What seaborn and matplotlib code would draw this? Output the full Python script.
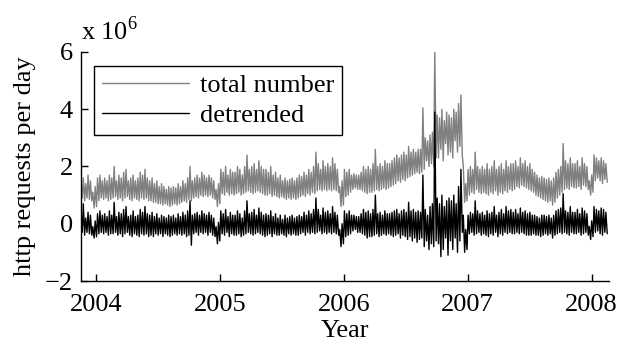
import pandas as pd
import seaborn as sns
import matplotlib
matplotlib.use("Agg")
import matplotlib.pyplot as plt

# ----------------------------------------
# Data (millions of requests), one weekly peak (weekday) and trough (weekend)
# first week starts 2003-11-17, one row per ~quarter
# ----------------------------------------
START = "2003-11-17"

total_high = [
    1.5, 1.6, 1.4, 1.7, 1.5, 1.1, 1.3, 1.6, 1.7, 1.5, 1.6, 1.5, 1.7,
    1.6, 2.0, 1.5, 1.7, 1.6, 1.8, 1.9, 1.5, 1.6, 1.7, 1.5, 1.6, 1.8,
    1.7, 1.9, 1.6, 1.5, 1.6, 1.4, 1.5, 1.3, 1.4, 1.3, 1.2, 1.3, 1.25,
    1.3, 1.25, 1.4, 1.3, 1.5, 1.4, 1.6, 2.0, 1.5, 1.6, 1.7, 1.6, 1.8,
    1.7, 1.6, 1.7, 1.6, 1.5, 1.2, 1.4, 1.9, 1.8, 2.0, 1.7, 1.9, 1.8,
    1.8, 2.0, 1.9, 1.7, 2.0, 2.4, 1.9, 2.0, 2.1, 1.9, 2.2, 2.0, 1.9,
    1.9, 1.8, 2.0, 1.7, 1.8, 1.6, 1.7, 1.5, 1.6, 1.5, 1.55, 1.6, 1.5,
    1.6, 1.7, 1.65, 1.8, 1.7, 1.9, 1.8, 2.0, 2.5, 2.1, 1.9, 2.2, 2.0,
    2.1, 2.0, 2.3, 2.1, 1.9, 1.3, 1.5, 1.9, 1.8, 1.9, 1.7, 1.75, 1.7,
    1.7, 1.8, 2.0, 1.9, 2.0, 1.9, 2.1, 2.6, 2.0, 2.1, 2.0, 2.2, 2.1,
    2.1, 2.2, 2.3, 2.4, 2.3, 2.4, 2.5, 2.4, 2.7, 2.5, 2.6, 2.5, 2.6,
    2.6, 4.05, 3.0, 2.9, 3.1, 3.2, 6.0, 3.8, 3.7, 4.0, 3.6, 3.9, 3.8,
    3.7, 4.0, 3.9, 4.2, 4.5, 2.0, 1.4, 1.9, 2.0, 1.9, 2.5, 2.0, 1.9,
    2.0, 1.9, 2.1, 1.9, 2.0, 2.2, 1.9, 2.0, 2.1, 1.9, 2.2, 2.0, 2.1,
    2.1, 2.2, 2.0, 2.3, 2.1, 2.2, 2.0, 2.1, 1.9, 1.8, 1.7, 1.6, 1.65,
    1.6, 1.55, 1.6, 1.5, 1.6, 1.8, 1.9, 2.0, 2.8, 2.2, 2.1, 2.3, 2.1,
    2.1, 2.2, 2.0, 2.3, 2.1, 2.0, 1.5, 1.7, 2.4, 2.3, 2.2, 2.3, 2.2, 2.1,
]

total_low = [
    0.9, 0.8, 0.9, 0.85, 0.8, 0.55, 0.6, 0.8, 0.9, 0.85, 0.9, 0.8, 0.85,
    0.9, 0.95, 0.85, 0.9, 0.8, 0.9, 0.95, 0.85, 0.8, 0.9, 0.85, 0.8, 0.9,
    0.85, 0.9, 0.8, 0.8, 0.75, 0.75, 0.7, 0.7, 0.65, 0.7, 0.65, 0.6, 0.65,
    0.7, 0.65, 0.7, 0.75, 0.8, 0.75, 0.85, 0.8, 0.9, 0.95, 0.9, 1.0, 0.95,
    1.0, 0.95, 1.0, 0.9, 0.85, 0.6, 0.7, 1.05, 1.0, 1.1, 1.0, 1.05, 1.0,
    1.05, 1.1, 1.0, 1.05, 1.1, 1.15, 1.1, 1.05, 1.1, 1.15, 1.1, 1.05, 1.0,
    1.0, 1.05, 0.95, 1.0, 0.95, 0.9, 0.95, 0.9, 0.85, 0.9, 0.85, 0.9, 0.85,
    0.9, 0.95, 1.0, 0.95, 1.05, 1.0, 1.1, 1.05, 1.15, 1.2, 1.15, 1.2, 1.15,
    1.2, 1.15, 1.2, 1.15, 1.1, 0.6, 0.65, 0.95, 1.0, 1.1, 1.2, 1.25, 1.2,
    1.2, 1.15, 1.1, 1.05, 1.1, 1.1, 1.15, 1.2, 1.15, 1.2, 1.25, 1.2, 1.25,
    1.3, 1.35, 1.4, 1.5, 1.45, 1.55, 1.5, 1.6, 1.65, 1.7, 1.75, 1.8, 1.75,
    1.8, 1.9, 2.2, 2.0, 2.1, 2.0, 2.3, 2.3, 2.6, 2.2, 2.8, 2.4, 2.5,
    2.3, 2.9, 2.5, 2.7, 2.4, 0.75, 0.8, 1.0, 1.1, 1.05, 1.2, 1.1, 1.05,
    1.1, 1.05, 1.0, 1.1, 1.05, 1.15, 1.0, 1.1, 1.05, 1.15, 1.1, 1.2, 1.15,
    1.2, 1.3, 1.25, 1.35, 1.3, 1.25, 1.2, 1.15, 1.1, 1.0, 0.95, 0.9, 0.85,
    0.8, 0.75, 0.8, 0.65, 0.75, 0.9, 1.0, 1.1, 1.2, 1.25, 1.2, 1.3, 1.25,
    1.25, 1.3, 1.2, 1.35, 1.3, 1.2, 1.0, 1.1, 1.5, 1.6, 1.5, 1.4, 1.55, 1.45,
]

detrended_high = [
    0.3, 0.7, 0.2, 0.4, 0.3, -0.1, 0.1, 0.35, 0.45, 0.3, 0.35, 0.25, 0.45,
    0.3, 0.75, 0.25, 0.4, 0.35, 0.5, 0.6, 0.25, 0.3, 0.45, 0.25, 0.3, 0.5,
    0.4, 0.6, 0.35, 0.3, 0.4, 0.25, 0.35, 0.2, 0.3, 0.25, 0.2, 0.3, 0.25,
    0.3, 0.2, 0.35, 0.25, 0.4, 0.3, 0.45, 0.8, 0.3, 0.35, 0.4, 0.3, 0.45,
    0.35, 0.3, 0.4, 0.3, 0.2, -0.1, 0.05, 0.45, 0.35, 0.5, 0.25, 0.4, 0.3,
    0.3, 0.45, 0.35, 0.2, 0.45, 0.8, 0.35, 0.4, 0.5, 0.3, 0.55, 0.4, 0.3,
    0.35, 0.3, 0.45, 0.25, 0.35, 0.2, 0.3, 0.15, 0.3, 0.2, 0.25, 0.3, 0.2,
    0.25, 0.3, 0.25, 0.4, 0.3, 0.45, 0.35, 0.5, 0.9, 0.5, 0.3, 0.55, 0.4,
    0.45, 0.35, 0.6, 0.4, 0.3, -0.2, 0.0, 0.45, 0.35, 0.45, 0.3, 0.3, 0.25,
    0.25, 0.35, 0.5, 0.4, 0.45, 0.35, 0.5, 1.0, 0.35, 0.4, 0.3, 0.45, 0.35,
    0.35, 0.4, 0.45, 0.5, 0.35, 0.45, 0.5, 0.4, 0.75, 0.45, 0.5, 0.4, 0.45,
    0.4, 1.7, 0.5, 0.3, 0.6, 0.7, 3.9, 0.9, 0.7, 1.0, 0.6, 0.8, 0.9,
    0.8, 1.0, 0.7, 1.3, 1.9, 0.3, -0.2, 0.3, 0.4, 0.35, 0.8, 0.45, 0.35,
    0.4, 0.3, 0.45, 0.35, 0.4, 0.6, 0.3, 0.4, 0.5, 0.35, 0.6, 0.45, 0.5,
    0.4, 0.5, 0.35, 0.55, 0.4, 0.45, 0.35, 0.4, 0.3, 0.3, 0.25, 0.2, 0.3,
    0.3, 0.25, 0.3, 0.2, 0.3, 0.45, 0.5, 0.55, 1.05, 0.45, 0.4, 0.6, 0.4,
    0.4, 0.5, 0.35, 0.55, 0.45, 0.35, -0.1, 0.1, 0.6, 0.5, 0.45, 0.55, 0.5, 0.4,
]

detrended_low = [
    -0.3, -0.4, -0.3, -0.35, -0.4, -0.5, -0.45, -0.35, -0.3, -0.35, -0.3, -0.4, -0.35,
    -0.35, -0.3, -0.4, -0.35, -0.45, -0.35, -0.3, -0.4, -0.45, -0.35, -0.4, -0.45, -0.35,
    -0.4, -0.35, -0.45, -0.4, -0.45, -0.35, -0.4, -0.35, -0.45, -0.35, -0.4, -0.45, -0.4,
    -0.35, -0.4, -0.35, -0.4, -0.35, -0.45, -0.4, -0.75, -0.35, -0.3, -0.4, -0.3, -0.35,
    -0.3, -0.4, -0.3, -0.4, -0.45, -0.7, -0.6, -0.35, -0.4, -0.3, -0.45, -0.35, -0.4,
    -0.4, -0.35, -0.45, -0.4, -0.35, -0.3, -0.35, -0.4, -0.35, -0.3, -0.35, -0.4, -0.45,
    -0.4, -0.35, -0.45, -0.35, -0.4, -0.4, -0.35, -0.4, -0.45, -0.35, -0.4, -0.35, -0.4,
    -0.4, -0.35, -0.3, -0.4, -0.3, -0.35, -0.3, -0.35, -0.3, -0.25, -0.35, -0.3, -0.35,
    -0.3, -0.35, -0.3, -0.35, -0.4, -0.8, -0.7, -0.45, -0.4, -0.35, -0.25, -0.2, -0.3,
    -0.3, -0.35, -0.4, -0.5, -0.45, -0.45, -0.4, -0.35, -0.45, -0.4, -0.35, -0.4, -0.35,
    -0.4, -0.45, -0.4, -0.35, -0.5, -0.4, -0.45, -0.55, -0.45, -0.6, -0.5, -0.65, -0.55,
    -0.5, -0.8, -0.6, -0.9, -0.7, -0.8, -0.6, -0.7, -1.15, -0.9, -0.5, -1.1, -0.6,
    -0.9, -0.5, -1.0, -0.6, -0.3, -1.0, -0.9, -0.35, -0.3, -0.4, -0.35, -0.3, -0.4,
    -0.35, -0.4, -0.45, -0.35, -0.4, -0.3, -0.45, -0.35, -0.4, -0.3, -0.35, -0.3, -0.35,
    -0.35, -0.3, -0.35, -0.3, -0.35, -0.4, -0.4, -0.4, -0.35, -0.4, -0.4, -0.45, -0.4,
    -0.35, -0.4, -0.35, -0.5, -0.4, -0.35, -0.3, -0.35, -0.3, -0.35, -0.4, -0.3, -0.35,
    -0.35, -0.3, -0.4, -0.35, -0.3, -0.4, -0.55, -0.45, -0.3, -0.25, -0.35, -0.4, -0.3, -0.35,
]

year_ticks = [2004, 2005, 2006, 2007, 2008]
y_ticks = [-2, 0, 2, 4, 6]


def to_decimal_year(d):
    days = 366 if d.is_leap_year else 365
    return d.year + (d.dayofyear - 1) / days


def weekly_series(high, low, label):
    weeks = pd.date_range(START, periods=len(high), freq="7D")
    hi = pd.DataFrame({"date": weeks + pd.Timedelta(days=1), "value": high})
    lo = pd.DataFrame({"date": weeks + pd.Timedelta(days=5), "value": low})
    df = pd.concat([hi, lo]).sort_values("date")
    df["year"] = [to_decimal_year(d) for d in df["date"]]
    df["series"] = label
    return df


df = pd.concat([
    weekly_series(total_high, total_low, "total number"),
    weekly_series(detrended_high, detrended_low, "detrended"),
], ignore_index=True)

# ----------------------------------------
# Plot
# ----------------------------------------
sns.set_theme(style="ticks")
plt.rcParams["font.family"] = ["Liberation Serif", "DejaVu Serif"]
plt.rcParams["mathtext.fontset"] = "custom"
plt.rcParams["mathtext.rm"] = "Liberation Serif"
plt.rcParams["xtick.direction"] = "in"
plt.rcParams["ytick.direction"] = "in"
for key in ("text.color", "axes.labelcolor", "xtick.color", "ytick.color"):
    plt.rcParams[key] = "black"
FS = 19

fig = plt.figure(figsize=(6.21, 3.45), dpi=100)
ax = fig.add_axes([0.1304, 0.1855, 0.8503, 0.6638])

sns.lineplot(data=df, x="year", y="value", hue="series",
             palette={"total number": "#808080", "detrended": "black"},
             estimator=None, sort=True, linewidth=1.0, ax=ax)

ax.set_xlim(2003.88, 2008.14)
ax.set_ylim(-2, 6)
ax.set_xticks(year_ticks)
ax.set_xticklabels([str(y) for y in year_ticks], fontsize=FS)
ax.set_yticks(y_ticks)
ax.set_yticklabels([f"{v}".replace("-", "\u2212") for v in y_ticks], fontsize=FS)
ax.tick_params(length=5, width=1, color="black")
ax.tick_params(axis="x", pad=9)
ax.tick_params(axis="y", pad=6)
ax.set_xlabel("Year", fontsize=FS, labelpad=3)
ax.set_ylabel("http requests per day", fontsize=FS, labelpad=6)
sns.despine(ax=ax)
for s in ("left", "bottom"):
    ax.spines[s].set_color("black")
    ax.spines[s].set_linewidth(1)

ax.text(0.0, 1.03, r"x 10$^{6}$", transform=ax.transAxes, fontsize=FS,
        ha="left", va="bottom")

handles, labels = ax.get_legend_handles_labels()
leg = ax.legend(handles, labels, loc="upper left", bbox_to_anchor=(0.0246, 0.939),
                fontsize=FS, frameon=True, fancybox=False, framealpha=1,
                edgecolor="black", handlelength=3.3, handletextpad=0.4,
                labelspacing=0.25, borderpad=0.3, borderaxespad=0)
leg.get_frame().set_linewidth(1)
for line in leg.get_lines():
    line.set_linewidth(1)

fig.savefig("out.png", dpi=100)
